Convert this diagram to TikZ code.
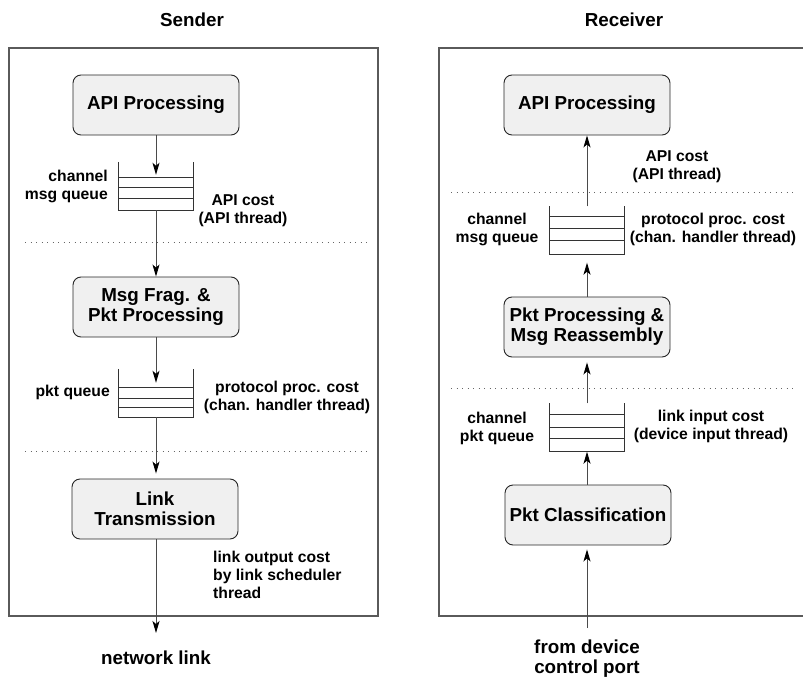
\documentclass[tikz,border=0pt]{standalone}
\usepackage{fontspec}
\setmainfont{Liberation Sans}
\usetikzlibrary{arrows.meta,calc}

\definecolor{framegray}{HTML}{5A5A5A}
\definecolor{linegray}{HTML}{4A4A4A}
\definecolor{boxfill}{HTML}{F0F0F0}

\tikzset{
  proc/.style={draw=black!85, fill=boxfill, rounded corners=8pt, line width=0.9pt,
    minimum width=166pt, minimum height=60pt, inner sep=0pt, align=center,
    font=\fontsize{18.8}{20}\selectfont\bfseries},
  queue/.style={draw=none, minimum width=74pt, minimum height=48pt, inner sep=0pt},
  qline/.style={draw=black!80, line width=0.8pt},
  frame/.style={draw=framegray, line width=1.2pt},
  sep/.style={draw=gray!80!black, line width=1pt, dash pattern=on 1pt off 4.5pt},
  flow/.style={draw=linegray, line width=1pt,
    -{Stealth[length=12pt,width=7pt,inset=3pt,color=black]}},
  lbl/.style={align=center, inner sep=0pt, font=\fontsize{15.7}{18}\selectfont\bfseries},
  title/.style={inner sep=0pt, font=\fontsize{18.8}{20}\selectfont\bfseries}
}

\newcommand\drawqueue[4]{%
  \draw[qline] (#1.north west) -- (#1.south west) -- (#1.south east) -- (#1.north east);
  \foreach \d in {#2,#3,#4}
    \draw[qline] ($(#1.north west)+(0,\d)$) -- ($(#1.north east)+(0,\d)$);
}

\begin{document}
\begin{tikzpicture}[x=1pt,y=-1pt]
\useasboundingbox (0,0) rectangle (803,677);
\clip (0,0) rectangle (803,677);

% ---------------- sender side ----------------
\node[title] (sendtitle) at (192,20) {Sender};
\draw[frame] (9,48) rectangle (378,616);

\node[proc] (sapi)  at (156,105) {API Processing};
\node[queue] (sq1)  at (156,186) {};
\node[proc] (sfrag) at (156,307) {Msg Frag. \&\\Pkt Processing};
\node[queue] (sq2)  at (156,393) {};
\node[proc] (slink) at (155,509) {Link\\Transmission};
\coordinate (snet) at (156,633);

\drawqueue{sq1}{16}{26}{37}
\drawqueue{sq2}{19}{30}{39}

\draw[sep] (25,242) -- (370,242);
\draw[sep] (25,451) -- (370,451);

\draw[flow] (sapi.south) -- ($(sq1.north)+(0,13)$);
\draw[flow] (sq1.south) -- (sfrag.north);
\draw[flow] (sfrag.south) -- ($(sq2.north)+(0,14)$);
\draw[flow] (sq2.south) -- ($(slink.north)+(1,-5)$);
\draw[flow] ($(slink.south)+(1,0)$) -- (snet);

\node[lbl, anchor=east, align=right] (smsgq) at (108,186) {channel\\msg queue};
\node[lbl] (sapicost) at (243,211) {API cost\\(API thread)};
\node[lbl, anchor=east] (spktq) at (110,392) {pkt queue};
\node[lbl] (sproto) at (287,397) {protocol proc. cost\\(chan. handler thread)};
\node[lbl, anchor=west, align=left] (slinkcost) at (213,575) {link output cost\\by link scheduler\\thread};
\node[title] (snetlbl) at (156,658) {network link};

% ---------------- receiver side ----------------
\node[title] (recvtitle) at (624,20) {Receiver};
\draw[frame] (439,48) rectangle (820,616);

\node[proc] (rapi)   at (587,105) {API Processing};
\node[queue] (rq1)   at (587,230.5) {};
\node[proc] (rpkt)   at (587,327) {Pkt Processing \&\\Msg Reassembly};
\node[queue] (rq2)   at (587,427.5) {};
\node[proc] (rclass) at (588,515) {Pkt Classification};
\coordinate (rdev) at (587,628);

\drawqueue{rq1}{10}{22}{34}
\drawqueue{rq2}{11}{24}{35}

\draw[sep] (451,192) -- (797,192);
\draw[sep] (451,388) -- (797,388);

\draw[flow] (rq1.north) -- (rapi.south);
\draw[flow] (rpkt.north) -- ($(rq1.south)+(0,8)$);
\draw[flow] (rq2.north) -- ($(rpkt.south)+(0,5)$);
\draw[flow] ($(rclass.north)+(-1,0)$) -- (rq2.south);
\draw[flow] (rdev) -- ($(rclass.south)+(-1,4)$);

\node[lbl] (rapicost) at (677,167) {API cost\\(API thread)};
\node[lbl] (rmsgq)    at (497,229) {channel\\msg queue};
\node[lbl] (rproto)   at (713,229) {protocol proc. cost\\(chan. handler thread)};
\node[lbl] (rpktq)    at (497,428) {channel\\pkt queue};
\node[lbl] (rlinkin)  at (711,426) {link input cost\\(device input thread)};
\node[title, align=center] (rdevlbl) at (587,659) {from device\\control port};
\end{tikzpicture}
\end{document}
